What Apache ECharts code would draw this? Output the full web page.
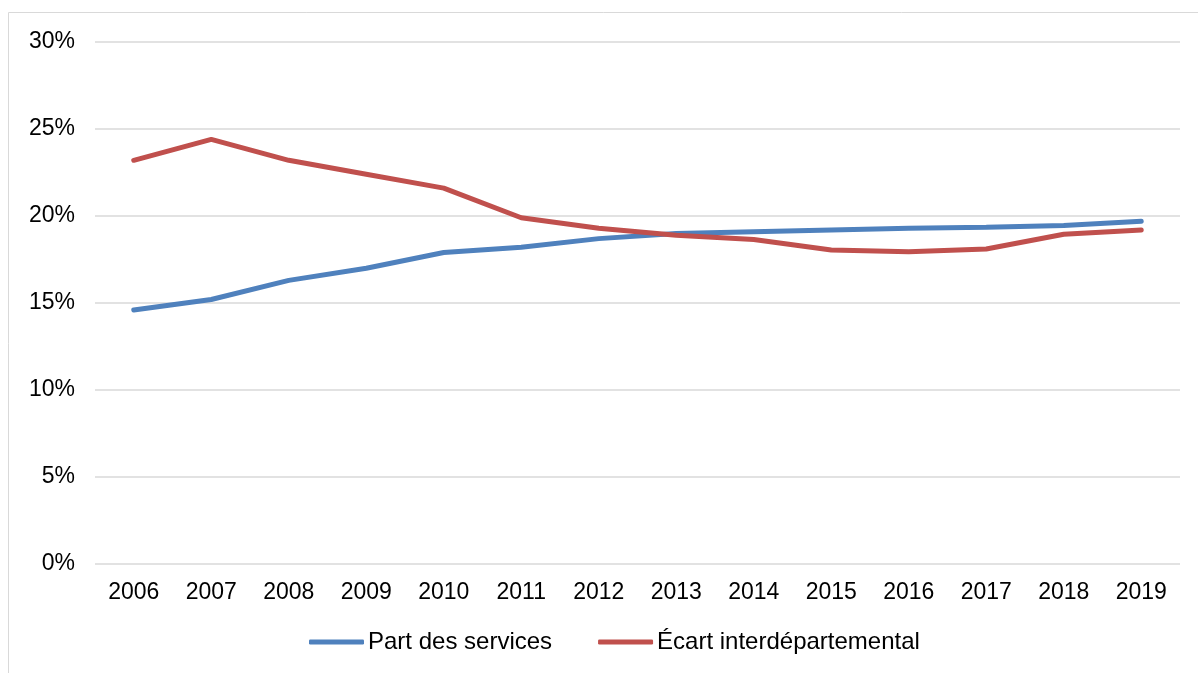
<!DOCTYPE html>
<html>
<head>
<meta charset="utf-8">
<script src="https://cdn.jsdelivr.net/npm/echarts@6/dist/echarts.min.js"></script>
<style>
  html, body { margin: 0; padding: 0; background: #fff; }
  #chart { width: 1198px; height: 673px; }
</style>
</head>
<body>
<div id="chart"></div>
<script>
const years = ['2006', '2007', '2008', '2009', '2010', '2011', '2012', '2013', '2014', '2015', '2016', '2017', '2018', '2019'];
const partServices = [14.6, 15.2, 16.3, 17.0, 17.9, 18.2, 18.7, 19.0, 19.1, 19.2, 19.3, 19.35, 19.45, 19.7];
const ecart = [23.2, 24.4, 23.2, 22.4, 21.6, 19.9, 19.3, 18.9, 18.65, 18.05, 17.95, 18.1, 18.95, 19.2];

const chart = echarts.init(document.getElementById('chart'));

const option = {
  animation: false,
  textStyle: { fontFamily: 'Liberation Sans, Arial, sans-serif' },
  graphic: [
    {
      type: 'rect',
      shape: { x: 8.5, y: 12.5, width: 1200, height: 700 },
      style: { fill: 'none', stroke: '#d9d9d9', lineWidth: 1 },
      silent: true
    }
  ],
  grid: { left: 95, right: 18, top: 42, bottom: 109 },
  legend: {
    bottom: 14,
    left: 304,
    itemWidth: 55,
    itemHeight: 5,
    itemGap: 46,
    icon: 'roundRect',
    textStyle: { fontSize: 24, color: '#000', padding: [0, 0, 0, -1] },
    data: ['Part des services', 'Écart interdépartemental']
  },
  xAxis: {
    type: 'category',
    data: years,
    boundaryGap: true,
    axisLine: { show: false },
    axisTick: { show: false },
    axisLabel: { fontSize: 23, color: '#000', margin: 17 }
  },
  yAxis: {
    type: 'value',
    min: 0,
    max: 30,
    interval: 5,
    axisLine: { show: false },
    axisTick: { show: false },
    axisLabel: { fontSize: 23, color: '#000', formatter: '{value}%', margin: 20 },
    splitLine: { lineStyle: { color: '#d9d9d9', width: 1.5 } }
  },
  series: [
    {
      name: 'Part des services',
      type: 'line',
      data: partServices,
      showSymbol: false,
      lineStyle: { color: '#4f81bd', width: 5, cap: 'round' },
      itemStyle: { color: '#4f81bd' }
    },
    {
      name: 'Écart interdépartemental',
      type: 'line',
      data: ecart,
      showSymbol: false,
      lineStyle: { color: '#c0504d', width: 5, cap: 'round' },
      itemStyle: { color: '#c0504d' }
    }
  ]
};

chart.setOption(option);
</script>
</body>
</html>
